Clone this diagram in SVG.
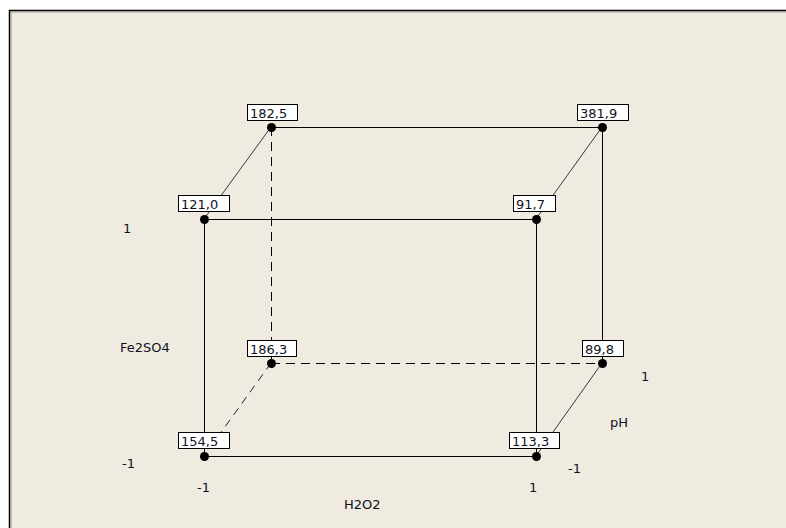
<svg xmlns="http://www.w3.org/2000/svg" width="786" height="528" viewBox="0 0 786 528">
<defs>
<style>
.bg{fill:#EFEBE1}
.edge{stroke:#000;stroke-width:1;fill:none}
.diag{stroke:#222;stroke-width:0.9;fill:none}
.dash{stroke:#000;stroke-width:1;fill:none;stroke-dasharray:9 6}
.dashd{stroke:#222;stroke-width:1;fill:none;stroke-dasharray:8 6}
.box{fill:#FFFFFF;stroke:#000;stroke-width:1}
.dot{fill:#000}
text{font-family:"DejaVu Sans","Liberation Sans",sans-serif;font-size:13px;fill:#111122}
</style>
</defs>
<rect x="0" y="0" width="786" height="528" fill="#FFFFFF"/>
<rect class="bg" x="9" y="10" width="777" height="518"/>
<path d="M9.5 528 V10.5 H786" stroke="#000" stroke-width="1.5" fill="none"/>
<path d="M11 528 V12 H786" stroke="#9a978f" stroke-width="1" fill="none"/>

<g id="connectors">
<line class="edge" x1="271" y1="127.5" x2="602" y2="127.5"/>
<line class="edge" x1="204" y1="219.5" x2="536" y2="219.5"/>
<line class="edge" x1="204" y1="456.5" x2="536" y2="456.5"/>
<line class="edge" x1="204.5" y1="219" x2="204.5" y2="456"/>
<line class="edge" x1="536.5" y1="219" x2="536.5" y2="456"/>
<line class="edge" x1="602.5" y1="127" x2="602.5" y2="363"/>
<line class="diag" x1="271" y1="127" x2="204" y2="219"/>
<line class="diag" x1="602" y1="127" x2="536" y2="219"/>
<line class="diag" x1="602" y1="363" x2="536" y2="456"/>
<line class="dash" x1="271.5" y1="127" x2="271.5" y2="363"/>
<line class="dash" x1="271" y1="363.5" x2="602" y2="363.5"/>
<line class="dashd" x1="271" y1="363" x2="204" y2="456"/>
</g>

<g id="node-182-5">
<rect class="box" x="247.5" y="104.5" width="50" height="16"/>
<text x="250" y="117.5">182,5</text>
<circle class="dot" cx="271.5" cy="127.5" r="4.5"/>
</g>
<g id="node-381-9">
<rect class="box" x="577.5" y="104.5" width="51" height="16"/>
<text x="580" y="117.5">381,9</text>
<circle class="dot" cx="602.5" cy="127.5" r="4.5"/>
</g>
<g id="node-121-0">
<rect class="box" x="178.5" y="195.5" width="51" height="16"/>
<text x="181" y="208.5">121,0</text>
<circle class="dot" cx="204.5" cy="219.5" r="4.5"/>
</g>
<g id="node-91-7">
<rect class="box" x="513.5" y="195.5" width="42" height="16"/>
<text x="516" y="208.5">91,7</text>
<circle class="dot" cx="536.5" cy="219.5" r="4.5"/>
</g>
<g id="node-186-3">
<rect class="box" x="247.5" y="340.5" width="49" height="16"/>
<text x="250" y="353.5">186,3</text>
<circle class="dot" cx="271.5" cy="363.5" r="4.5"/>
</g>
<g id="node-89-8">
<rect class="box" x="582.5" y="340.5" width="41" height="16"/>
<text x="585" y="353.5">89,8</text>
<circle class="dot" cx="602.5" cy="363.5" r="4.5"/>
</g>
<g id="node-154-5">
<rect class="box" x="178.5" y="432.5" width="51" height="16"/>
<text x="181" y="445.5">154,5</text>
<circle class="dot" cx="204.5" cy="456.5" r="4.5"/>
</g>
<g id="node-113-3">
<rect class="box" x="509.5" y="432.5" width="50" height="16"/>
<text x="512" y="445.5">113,3</text>
<circle class="dot" cx="536.5" cy="456.5" r="4.5"/>
</g>

<g id="axis-labels">
<text x="123" y="233">1</text>
<text x="120" y="352">Fe2SO4</text>
<text x="122" y="468">-1</text>
<text x="197" y="492">-1</text>
<text x="344" y="509">H2O2</text>
<text x="529" y="492">1</text>
<text x="568" y="473">-1</text>
<text x="610" y="427">pH</text>
<text x="641" y="381">1</text>
</g>
</svg>
